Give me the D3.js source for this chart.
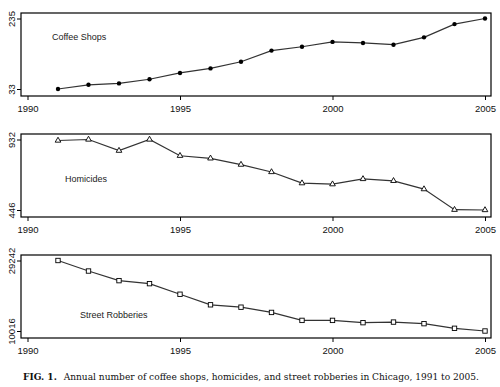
<!DOCTYPE html>
<html>
<head>
<meta charset="utf-8">
<script src="https://d3js.org/d3.v7.min.js"></script>
<style>
  body { margin: 0; background: #fff; }
  svg { display: block; }
  .axis text { font-family: "Liberation Sans", Arial, sans-serif; font-size: 9.5px; fill: #111; }
  .axis path, .axis line { stroke: #000; }
  .caption { font-family: "DejaVu Serif", "Liberation Serif", serif; font-size: 9px; fill: #111; }
</style>
</head>
<body>
<script>
// data
const years = [1991, 1992, 1993, 1994, 1995, 1996, 1997, 1998, 1999, 2000, 2001, 2002, 2003, 2004, 2005];
const coffeeShops = [33, 45, 49, 61, 79, 92, 111, 143, 154, 168, 165, 160, 181, 219, 235];
const homicides = [925, 932, 855, 932, 820, 802, 759, 708, 631, 624, 660, 647, 590, 448, 446];
const streetRobberies = [29242, 26370, 23750, 22930, 20040, 17160, 16510, 15080, 12910, 12910, 12290, 12450, 12020, 10750, 10016];
const xTicks = [1990, 1995, 2000, 2005];
const panelNames = ["Coffee Shops", "Homicides", "Street Robberies"];
const panelTicks = [[33, 235], [446, 932], [10016, 29242]];
const markers = ["circle", "triangle", "square"];

const W = 500, H = 387;
const svg = d3.select("body").append("svg").attr("width", W).attr("height", H);

const boxLeft = 21, boxRight = 491;
const panelTop = [13, 134, 255];
const panelH = 83;
const labelPos = [[52, 40], [65, 182], [80, 318]];

const x = d3.scaleLinear().domain([1990, 2005]).range([27.5, 485]);

const series = [coffeeShops, homicides, streetRobberies];

series.forEach(function(vals, i) {
  const top = panelTop[i], bottom = top + panelH;
  const ticks = panelTicks[i];
  const y = d3.scaleLinear().domain(ticks).range([bottom - 7, top + 5.5]);

  const g = svg.append("g");

  // frame
  g.append("rect")
    .attr("x", boxLeft).attr("y", top)
    .attr("width", boxRight - boxLeft).attr("height", panelH)
    .attr("fill", "none").attr("stroke", "#000").attr("stroke-width", 1.2);

  // x axis
  g.append("g")
    .attr("class", "axis")
    .attr("transform", "translate(0," + bottom + ")")
    .call(d3.axisBottom(x).tickValues(xTicks).tickFormat(d3.format("d")).tickSize(4).tickSizeOuter(0))
    .call(function(a) { a.select(".domain").remove(); })
    .selectAll("text").attr("dy", "0.95em");

  // y axis, labels rotated
  g.append("g")
    .attr("class", "axis")
    .attr("transform", "translate(" + boxLeft + ",0)")
    .call(d3.axisLeft(y).tickValues(ticks).tickFormat(d3.format("d")).tickSize(4).tickSizeOuter(0))
    .call(function(a) { a.select(".domain").remove(); })
    .selectAll("text")
    .attr("x", 0).attr("y", 0).attr("dy", 0)
    .attr("text-anchor", "middle")
    .attr("transform", "translate(-6.5,0) rotate(-90)");

  // line
  const line = d3.line().x(function(d, j) { return x(years[j]); }).y(function(d) { return y(d); });
  g.append("path")
    .datum(vals)
    .attr("d", line)
    .attr("fill", "none")
    .attr("stroke", "#333")
    .attr("stroke-width", 1.2);

  // markers
  const pts = g.append("g").selectAll("g").data(vals).enter().append("g")
    .attr("transform", function(d, j) { return "translate(" + x(years[j]) + "," + y(d) + ")"; });

  if (markers[i] === "circle") {
    pts.append("circle").attr("r", 2.2).attr("fill", "#000");
  } else if (markers[i] === "triangle") {
    pts.append("path").attr("d", d3.symbol().type(d3.symbolTriangle).size(14))
      .attr("fill", "#fff").attr("stroke", "#000").attr("stroke-width", 0.9);
  } else {
    pts.append("rect").attr("x", -2.2).attr("y", -2.2).attr("width", 4.4).attr("height", 4.4)
      .attr("fill", "#fff").attr("stroke", "#000").attr("stroke-width", 0.9);
  }

  // series label
  g.append("text")
    .attr("x", labelPos[i][0]).attr("y", labelPos[i][1])
    .attr("font-family", "Liberation Sans, Arial, sans-serif")
    .attr("font-size", "9px")
    .attr("fill", "#222")
    .text(panelNames[i]);
});

// caption
const cap = svg.append("text").attr("class", "caption").attr("x", 23).attr("y", 380);
cap.append("tspan").attr("font-weight", "bold").text("FIG. 1.");
cap.append("tspan").attr("dx", 4).text(" Annual number of coffee shops, homicides, and street robberies in Chicago, 1991 to 2005.");
// fit caption to the printed width
const capW = cap.node().getComputedTextLength();
cap.style("font-size", (9 * 453 / capW) + "px");
</script>
</body>
</html>
